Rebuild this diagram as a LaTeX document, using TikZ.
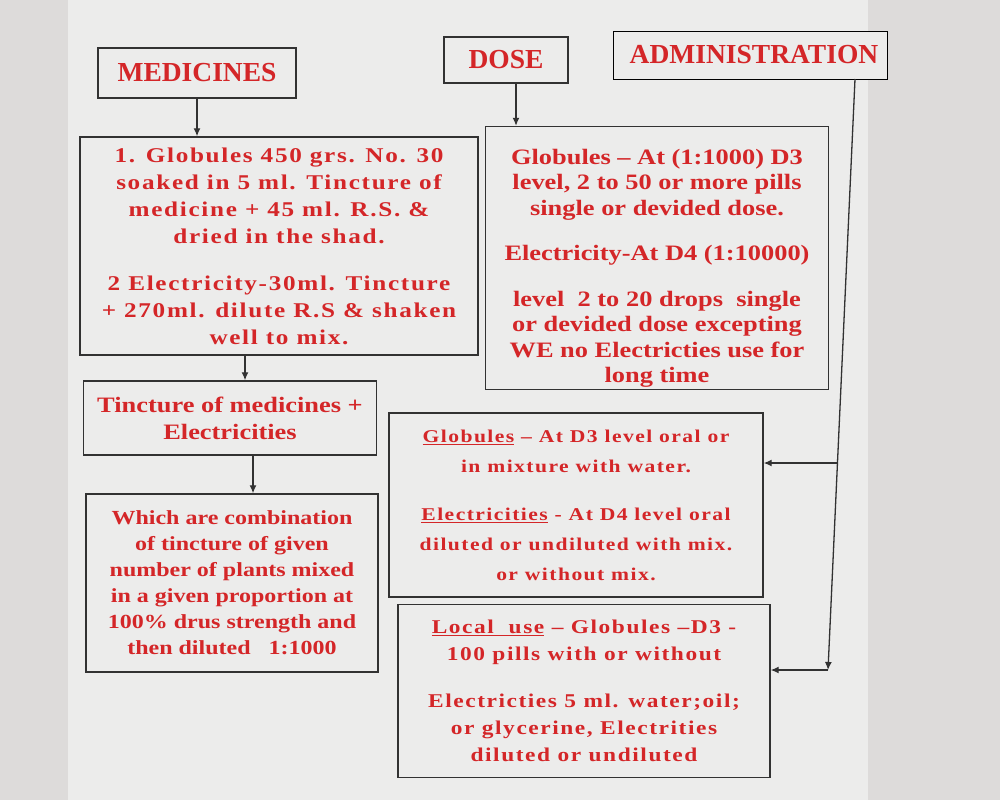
\documentclass[tikz,border=0pt]{standalone}
\usepackage{fontspec}
\setmainfont{Liberation Serif}
\newfontfamily\wideserif{Liberation Serif}[FakeStretch=1.2]
\newfontfamily\spacedserif{Liberation Serif}[LetterSpace=8, FakeStretch=1.2]
\usepackage{tikz}
\usetikzlibrary{arrows.meta, positioning}
\definecolor{inkred}{RGB}{212,38,40}
\definecolor{edge}{RGB}{50,50,50}
\definecolor{screen}{RGB}{236,236,235}
\definecolor{outside}{RGB}{221,219,218}

\begin{document}
\begin{tikzpicture}[
            x=1pt, y=-1pt,
            every node/.style={font=\bfseries, text=inkred, align=center},
            box/.style={draw=edge, line width=1.4pt, fill=screen, inner sep=0pt},
            head/.style={box, font=\bfseries\fontsize{27.5}{30}\selectfont},
            link/.style={-{Latex[length=8pt,width=7pt]}, edge, line width=1.3pt}
        ]

        \fill[outside] (0,0) rectangle (1000,800);
        \fill[screen] (68,0) rectangle (868,800);
        \useasboundingbox (0,0) rectangle (1000,800);

        \node[head, minimum width=198pt, minimum height=50pt] (med) at (197,73) {MEDICINES};
        \node[head, minimum width=124pt, minimum height=46pt] (dose) at (506,60) {DOSE};
        \node[head, minimum width=274pt, minimum height=48pt, draw=black, line width=0.8pt] (admin) at (750,55) {\hspace{8pt}ADMINISTRATION};

        \node[box, minimum width=398pt, minimum height=218pt,
              font=\spacedserif\bfseries\fontsize{21}{27}\selectfont] (medbox) at (279,246) {
            1. Globules 450 grs. No. 30\\
            soaked in 5 ml. Tincture of\\
            medicine + 45 ml. R.S. \&\\
            dried in the shad.\\[20pt]
            2 Electricity-30ml. Tincture\\
            + 270ml. dilute R.S \& shaken\\
            well to mix.
        };

        \node[box, minimum width=343pt, minimum height=263pt,
              font=\wideserif\bfseries\fontsize{22}{25.5}\selectfont] (dosebox) at (657,258) {
            \rule{0pt}{36pt}Globules \textendash\ At (1:1000) D3\\
            level, 2 to 50 or more pills\\
            single or devided dose.\\[20pt]
            Electricity-At D4 (1:10000)\\[20pt]
            level\ \ 2 to 20 drops\ \ single\\
            or devided dose excepting\\
            WE no Electricties use for\\
            long time
        };

        \node[box, minimum width=293pt, minimum height=74pt,
              font=\wideserif\bfseries\fontsize{22}{27}\selectfont] (tinct) at (230,418) {
            Tincture of medicines +\\
            Electricities
        };

        \node[box, minimum width=292pt, minimum height=178pt,
              font=\wideserif\bfseries\fontsize{20}{26}\selectfont] (comb) at (232,583) {
            Which are combination\\
            of tincture of given\\
            number of plants mixed\\
            in a given proportion at\\
            100\% drus strength and\\
            then diluted\ \ \ 1:1000
        };

        \node[box, minimum width=374pt, minimum height=184pt,
              font=\spacedserif\bfseries\fontsize{18}{30}\selectfont] (oral) at (576,505) {
            \underline{Globules} \textendash\ At D3 level oral or\\
            in mixture with water.\\[18pt]
            \underline{Electricities} - At D4 level oral\\
            diluted or undiluted with mix.\\
            or without mix.
        };

        \node[box, minimum width=372pt, minimum height=173pt,
              font=\spacedserif\bfseries\fontsize{19.5}{27}\selectfont] (local) at (584,691) {
            \underline{Local\ \ use} \textendash\ Globules \textendash D3 -\\
            100 pills with or without\\[20pt]
            Electricties 5 ml. water;oil;\\
            or glycerine, Electrities\\
            diluted or undiluted
        };

        \coordinate (admintop) at (855,79);
        \coordinate (oralturn) at (837,463);
        \coordinate (adminend) at (828,670);

        \draw[link] (med.south) -- (med.south |- medbox.north);
        \draw[link] ([xshift=10pt]dose.south) -- ([xshift=10pt]dose.south |- dosebox.north);
        \draw[link] ([xshift=15pt]tinct.north |- medbox.south) -- ([xshift=15pt]tinct.north);
        \draw[link] ([xshift=23pt]tinct.south) -- ([xshift=23pt]tinct.south |- comb.north);

        \draw[link] (admintop) -- (adminend);
        \draw[link] (oralturn) -- (oral.east |- oralturn);
        \draw[link] (adminend) -- (local.east |- adminend);

    \end{tikzpicture}
\end{document}
